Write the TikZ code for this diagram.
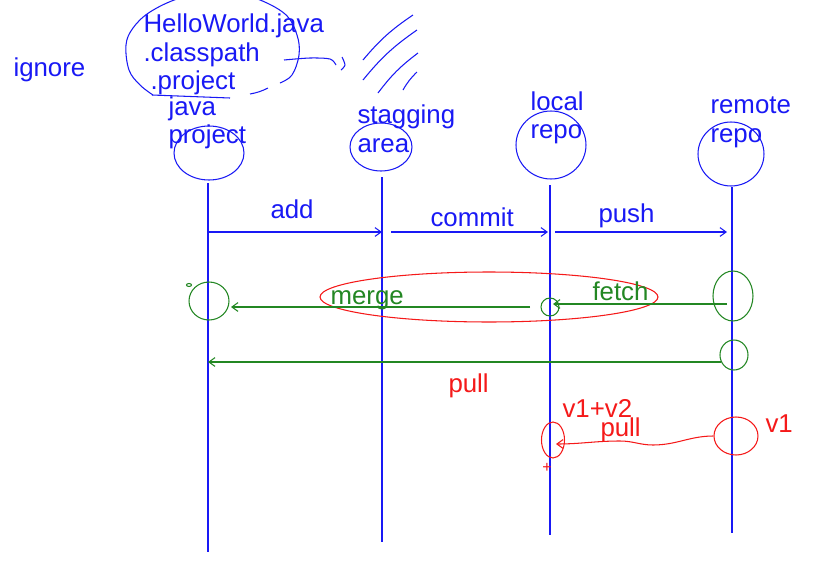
\documentclass[tikz,border=0pt]{standalone}
\usepackage{fontspec}
\setmainfont{Liberation Sans}
\usetikzlibrary{shapes.geometric,arrows.meta}
\definecolor{penblue}{RGB}{25,25,245}
\definecolor{pengreen}{RGB}{35,135,35}
\definecolor{penred}{RGB}{245,25,25}

\begin{document}
\begin{tikzpicture}[x=0.02cm,y=-0.02cm,line width=0.6pt,
    lbl/.style={font=\fontsize{14.7}{17}\selectfont,inner sep=0pt,anchor=base west},
    ring/.style={draw,ellipse,inner sep=0pt},
    life/.style={penblue,line width=0.9pt},
    tip/.style={-{Straight Barb[length=3.5pt,width=5pt]}}]
    \useasboundingbox (0,0) rectangle (840,565);
    \clip (0,0) rectangle (840,565);
    \fill[white] (0,0) rectangle (840,565);
    % heads of the lifelines
    \node[ring,penblue,minimum width=1.4cm,minimum height=1.08cm] (jp) at (209,153) {};
    \node[ring,penblue,minimum width=1.24cm,minimum height=0.96cm] (sa) at (381,147) {};
    \node[ring,penblue,minimum width=1.4cm,minimum height=1.36cm] (lr) at (551,145) {};
    \node[ring,penblue,minimum width=1.32cm,minimum height=1.28cm] (rr) at (731,154) {};
    \coordinate (jp-end) at (208,552);
    \coordinate (sa-end) at (382,542);
    \coordinate (lr-end) at (550,535);
    \coordinate (rr-end) at (732,533);
    \foreach \h/\x/\t in {jp/208/183,sa/382/177,lr/550/185,rr/732/187}{\coordinate (\h-top) at (\x,\t); \draw[life] (\h-top) -- (\h-end);}
    % texts
    \begin{scope}[penblue]
        \node[lbl] (ign) at (13,76) {ignore};
        \node[lbl] (f1) at (143,32) {HelloWorld.java};
        \node[lbl] (f2) at (143,61) {.classpath};
        \node[lbl] (f3) at (150,89) {.project};
        \node[lbl] (jt1) at (168,115) {java};
        \node[lbl] (jt2) at (168,143) {project};
        \node[lbl] (st1) at (357,123) {stagging};
        \node[lbl] (st2) at (357,152) {area};
        \node[lbl] (lt1) at (530,110) {local};
        \node[lbl] (lt2) at (530,138) {repo};
        \node[lbl] (rt1) at (710,113) {remote};
        \node[lbl] (rt2) at (710,142) {repo};
    \end{scope}
    % scribbles
    \draw[penblue] plot[smooth,tension=0.6] coordinates {(153,95) (140,85) (129,70) (126,45) (133,28) (150,12) (180,-2) (220,-10) (255,-2) (285,14) (297,35) (299,55) (292,75) (280,83)};
    \draw[penblue] (250,94) to[bend right=8] (268,88);
    \draw[penblue] (152,95) -- (230,98);
    \draw[penblue] plot[smooth] coordinates {(284,60) (310,58) (330,59) (336,65)};
    \draw[penblue] plot[smooth] coordinates {(342,57) (345,65) (341,70)};
    \draw[penblue] (363,60) to[bend left=8] (413,15);
    \draw[penblue] (363,80) to[bend left=8] (417,30);
    \draw[penblue] (378,93) to[bend left=8] (418,53);
    \draw[penblue] (403,90) to[bend left=8] (417,72);
    % add, commit, push
    \foreach \n/\s/\e/\lx/\ly in {add/208/382/270/218,commit/391/548/430/226,push/555/727/598/222}{
        \coordinate (\n-s) at (\s,232); \coordinate (\n-e) at (\e,232);
        \draw[penblue,tip] (\n-s) -- (\n-e);
        \node[lbl,penblue] (\n-l) at (\lx,\ly) {\n};}
    % fetch and merge
    \node[ring,penred,minimum width=6.76cm,minimum height=1.0cm] (mf) at (489,297) {};
    \node[ring,pengreen,minimum width=0.8cm,minimum height=0.76cm] (jg) at (209,301) {};
    \node[ring,pengreen,minimum width=0.1cm,minimum height=0.06cm] (jo) at (189,285) {};
    \node[ring,pengreen,minimum width=0.36cm,minimum height=0.36cm] (lg) at (550,307) {};
    \node[ring,pengreen,minimum width=0.8cm,minimum height=1.0cm] (rg) at (733,296) {};
    \node[ring,pengreen,minimum width=0.56cm,minimum height=0.6cm] (rg2) at (734,355) {};
    \coordinate (fetch-s) at (727,304);
    \coordinate (fetch-e) at (553,304);
    \coordinate (merge-s) at (530,307);
    \coordinate (merge-e) at (231,307);
    \coordinate (pull-s) at (721,362);
    \coordinate (pull-e) at (208,362);
    \draw[pengreen,tip] (fetch-s) -- (fetch-e);
    \draw[pengreen,tip] (merge-s) -- (merge-e);
    \draw[pengreen,tip] (pull-s) -- (pull-e);
    \node[lbl,pengreen] (fl) at (592,300) {fetch};
    \node[lbl,pengreen] (ml) at (330,304) {merge};
    \node[lbl,penred] (pl) at (448,392) {pull};
    % pull with two versions
    \node[ring,penred,minimum width=0.46cm,minimum height=0.72cm] (lv) at (553,440) {};
    \node[ring,penred,minimum width=0.88cm,minimum height=0.76cm] (rv) at (736,436) {};
    \coordinate (lv-in) at (556,444);
    \draw[penred,tip] (rv.west) to[out=180,in=0] (653,445) to[out=180,in=0] (620,441) to[out=180,in=0] (lv-in);
    \node[lbl,penred] (v12) at (562,417) {v1+v2};
    \node[lbl,penred] (pl2) at (600,436) {pull};
    \node[lbl,penred] (v1) at (765,432) {v1};
    \node[penred,inner sep=0pt,font=\small] (plus) at (547,468) {+};
\end{tikzpicture}
\end{document}
